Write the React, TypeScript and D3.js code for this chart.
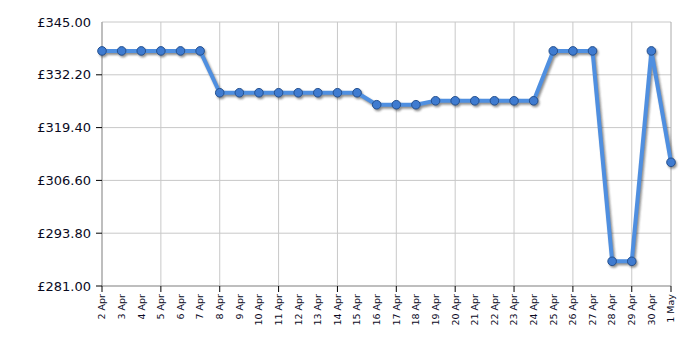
import React from "react";
import * as d3 from "d3";

const dates: string[] = [
  "2 Apr","3 Apr","4 Apr","5 Apr","6 Apr","7 Apr","8 Apr","9 Apr","10 Apr","11 Apr",
  "12 Apr","13 Apr","14 Apr","15 Apr","16 Apr","17 Apr","18 Apr","19 Apr","20 Apr","21 Apr",
  "22 Apr","23 Apr","24 Apr","25 Apr","26 Apr","27 Apr","28 Apr","29 Apr","30 Apr","1 May",
];
const prices: number[] = [
  337.99,337.99,337.99,337.99,337.99,337.99,327.85,327.85,327.85,327.85,
  327.85,327.85,327.85,327.85,324.95,324.95,324.95,325.9,325.9,325.9,
  325.9,325.9,325.9,337.99,337.99,337.99,286.99,286.99,337.99,310.99,
];
const yTicks: number[] = [281, 293.8, 306.6, 319.4, 332.2, 345];

const W = 700, H = 350;
const M = { left: 102, right: 29, top: 22, bottom: 64 };

export default function App() {
  const x = d3.scaleLinear().domain([0, dates.length - 1]).range([M.left, W - M.right]);
  const y = d3.scaleLinear().domain([281, 345]).range([H - M.bottom, M.top]);
  const line = d3.line<number>().x((_, i) => x(i)).y((d) => y(d));
  const path = line(prices) || "";
  const gridIdx = dates.map((_, i) => i).filter((i) => i % 3 === 0);
  const font = "Verdana, 'DejaVu Sans', sans-serif";
  return (
    <svg width={W} height={H} style={{ position: "absolute", left: 0, top: 0, background: "#fff" }}>
      <defs>
        <filter id="sh" x="-10%" y="-10%" width="120%" height="120%">
          <feGaussianBlur stdDeviation="0.8" />
        </filter>
      </defs>
      {/* horizontal grid */}
      {yTicks.map((t) => (
        <line key={"h" + t} x1={M.left} x2={W - M.right} y1={y(t)} y2={y(t)} stroke="#c8c8c8" strokeWidth={1} />
      ))}
      {/* vertical grid */}
      {gridIdx.map((i) => (
        <line key={"v" + i} x1={x(i)} x2={x(i)} y1={M.top} y2={H - M.bottom} stroke="#c8c8c8" strokeWidth={1} />
      ))}
      <line x1={x(dates.length - 1)} x2={x(dates.length - 1)} y1={M.top} y2={H - M.bottom} stroke="#aaa" />
      {/* axes */}
      <line x1={M.left} x2={M.left} y1={M.top} y2={H - M.bottom} stroke="#999" strokeWidth={1} />
      <line x1={M.left} x2={W - M.right} y1={H - M.bottom} y2={H - M.bottom} stroke="#999" strokeWidth={1} />
      {/* y ticks & labels */}
      {yTicks.map((t) => (
        <g key={"yt" + t}>
          {t !== 345 && <line x1={M.left - 6} x2={M.left} y1={y(t)} y2={y(t)} stroke="#000" strokeWidth={1} />}
          <text x={M.left - 11} y={y(t)} dy="0.35em" textAnchor="end" fontFamily={font} fontSize={13} fill="#0a0a1e">
            £{t.toFixed(2)}
          </text>
        </g>
      ))}
      {/* x ticks */}
      {[0, ...gridIdx.slice(1), dates.length - 1].map((i) => (
        <line key={"xt" + i} x1={x(i)} x2={x(i)} y1={H - M.bottom} y2={H - M.bottom + 6} stroke="#000" strokeWidth={1} />
      ))}
      {dates.map((d, i) => (
        <text
          key={"xl" + i}
          transform={`translate(${x(i)},${H - M.bottom + 8}) rotate(-90)`}
          textAnchor="end"
          dy="0.35em"
          fontFamily={font}
          fontSize={9.5}
          fill="#0a0a1e"
        >
          {d}
        </text>
      ))}
      {/* shadow */}
      <g transform="translate(1.5,2)" filter="url(#sh)" opacity={0.55}>
        <path d={path} fill="none" stroke="#333" strokeWidth={4} strokeLinejoin="round" />
        {prices.map((p, i) => (
          <circle key={"s" + i} cx={x(i)} cy={y(p)} r={4.5} fill="#333" />
        ))}
      </g>
      <path d={path} fill="none" stroke="#4f8fe0" strokeWidth={4} strokeLinejoin="round" />
      {prices.map((p, i) => (
        <circle key={"c" + i} cx={x(i)} cy={y(p)} r={4.3} fill="#3f7bd0" stroke="#24508f" strokeWidth={1} />
      ))}
    </svg>
  );
}
